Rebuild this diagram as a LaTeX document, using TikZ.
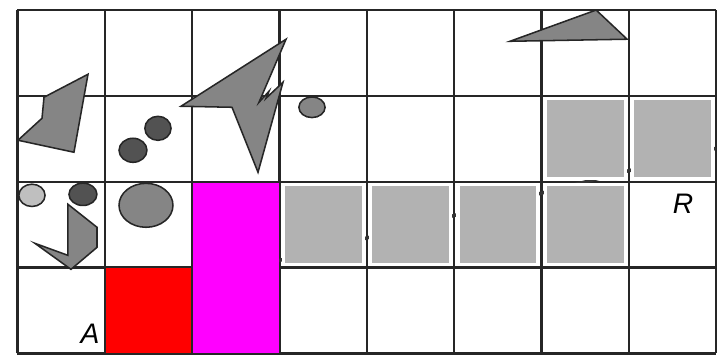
\documentclass[tikz,border=0pt]{standalone}
\usepackage{fontspec}
\setsansfont{Liberation Sans}
\usepackage{xcolor}
\usepackage{tikz}
\usetikzlibrary{calc}

\definecolor{cellmag}{RGB}{255,0,255}
\definecolor{cellred}{RGB}{255,0,0}

\begin{document}
\begin{tikzpicture}[
    x=1cm, y=0.983cm,
    gridline/.style={draw=black!85, line width=0.75pt},
    visited/.style={rectangle, fill=black!30, draw=white, line width=1pt},
    route/.style={draw=black!80, line width=1.1pt},
    obst/.style={fill=black!48, draw=black!85, line width=0.5pt},
    obst-dark/.style={fill=black!68, draw=black!85, line width=0.5pt},
    obst-light/.style={fill=black!25, draw=black!85, line width=0.5pt},
    lbl/.style={font=\sffamily\itshape\fontsize{9.2}{10}\selectfont, inner sep=0pt}
]
\useasboundingbox (-0.2,-0.012) rectangle (8.08,4.117);

% --- grid ---
\foreach \i in {0,...,8} {
  \draw[gridline] (\i,0) -- (\i,4);
}
\foreach \j in {0,...,4} {
  \draw[gridline] (0,\j) -- (8,\j);
}

% --- route under the visited cells ---
\coordinate (rs) at (2.5,0.953);
\coordinate (re) at (8.0,2.389);
\draw[route] (rs) -- (re);

% --- visited cells ---
\foreach \c/\r in {3/1, 4/1, 5/1, 6/1, 6/2, 7/2} {
  \draw[visited] (\c+0.045,\r+0.035) rectangle (\c+0.96,\r+0.965);
}

% --- start and magenta cells ---
\fill[cellred] (1.01,0.0) rectangle (1.99,0.99);
\fill[cellmag] (2.01,0.0) rectangle (2.99,1.99);

% --- obstacles ---
\draw[obst] (0.006,2.483) -- (0.281,2.739) -- (0.304,2.984) -- (0.808,3.252)
            -- (0.647,2.343) -- cycle;
\draw[obst-dark] (1.609,2.622) ellipse [x radius=0.150, y radius=0.140];
\draw[obst-dark] (1.323,2.366) ellipse [x radius=0.160, y radius=0.140];
\draw[obst] (1.873,2.879) -- (3.076,3.660) -- (2.766,2.925) -- (2.881,3.054)
            -- (2.847,2.972) -- (3.041,3.159) -- (2.755,2.110)
            -- (2.457,2.867) -- cycle;
\draw[obst] (3.373,2.867) ellipse [x radius=0.150, y radius=0.120];
\draw[obst] (5.641,3.636) -- (6.627,4.0) -- (6.982,3.660) -- cycle;

\draw[obst-light] (0.166,1.841) ellipse [x radius=0.150, y radius=0.130];
\draw[obst-dark]  (0.750,1.853) ellipse [x radius=0.160, y radius=0.130];
\draw[obst] (0.578,1.737) -- (0.911,1.469) -- (0.911,1.235) -- (0.613,0.979)
            -- (0.200,1.282) -- (0.578,1.142) -- cycle;
\draw[obst] (1.472,1.725) ellipse [x radius=0.309, y radius=0.256];

% --- labels ---
\node[lbl] (a) at (0.830,0.233) {A};
\node[lbl] (r) at (7.623,1.748) {R};

\end{tikzpicture}
\end{document}
